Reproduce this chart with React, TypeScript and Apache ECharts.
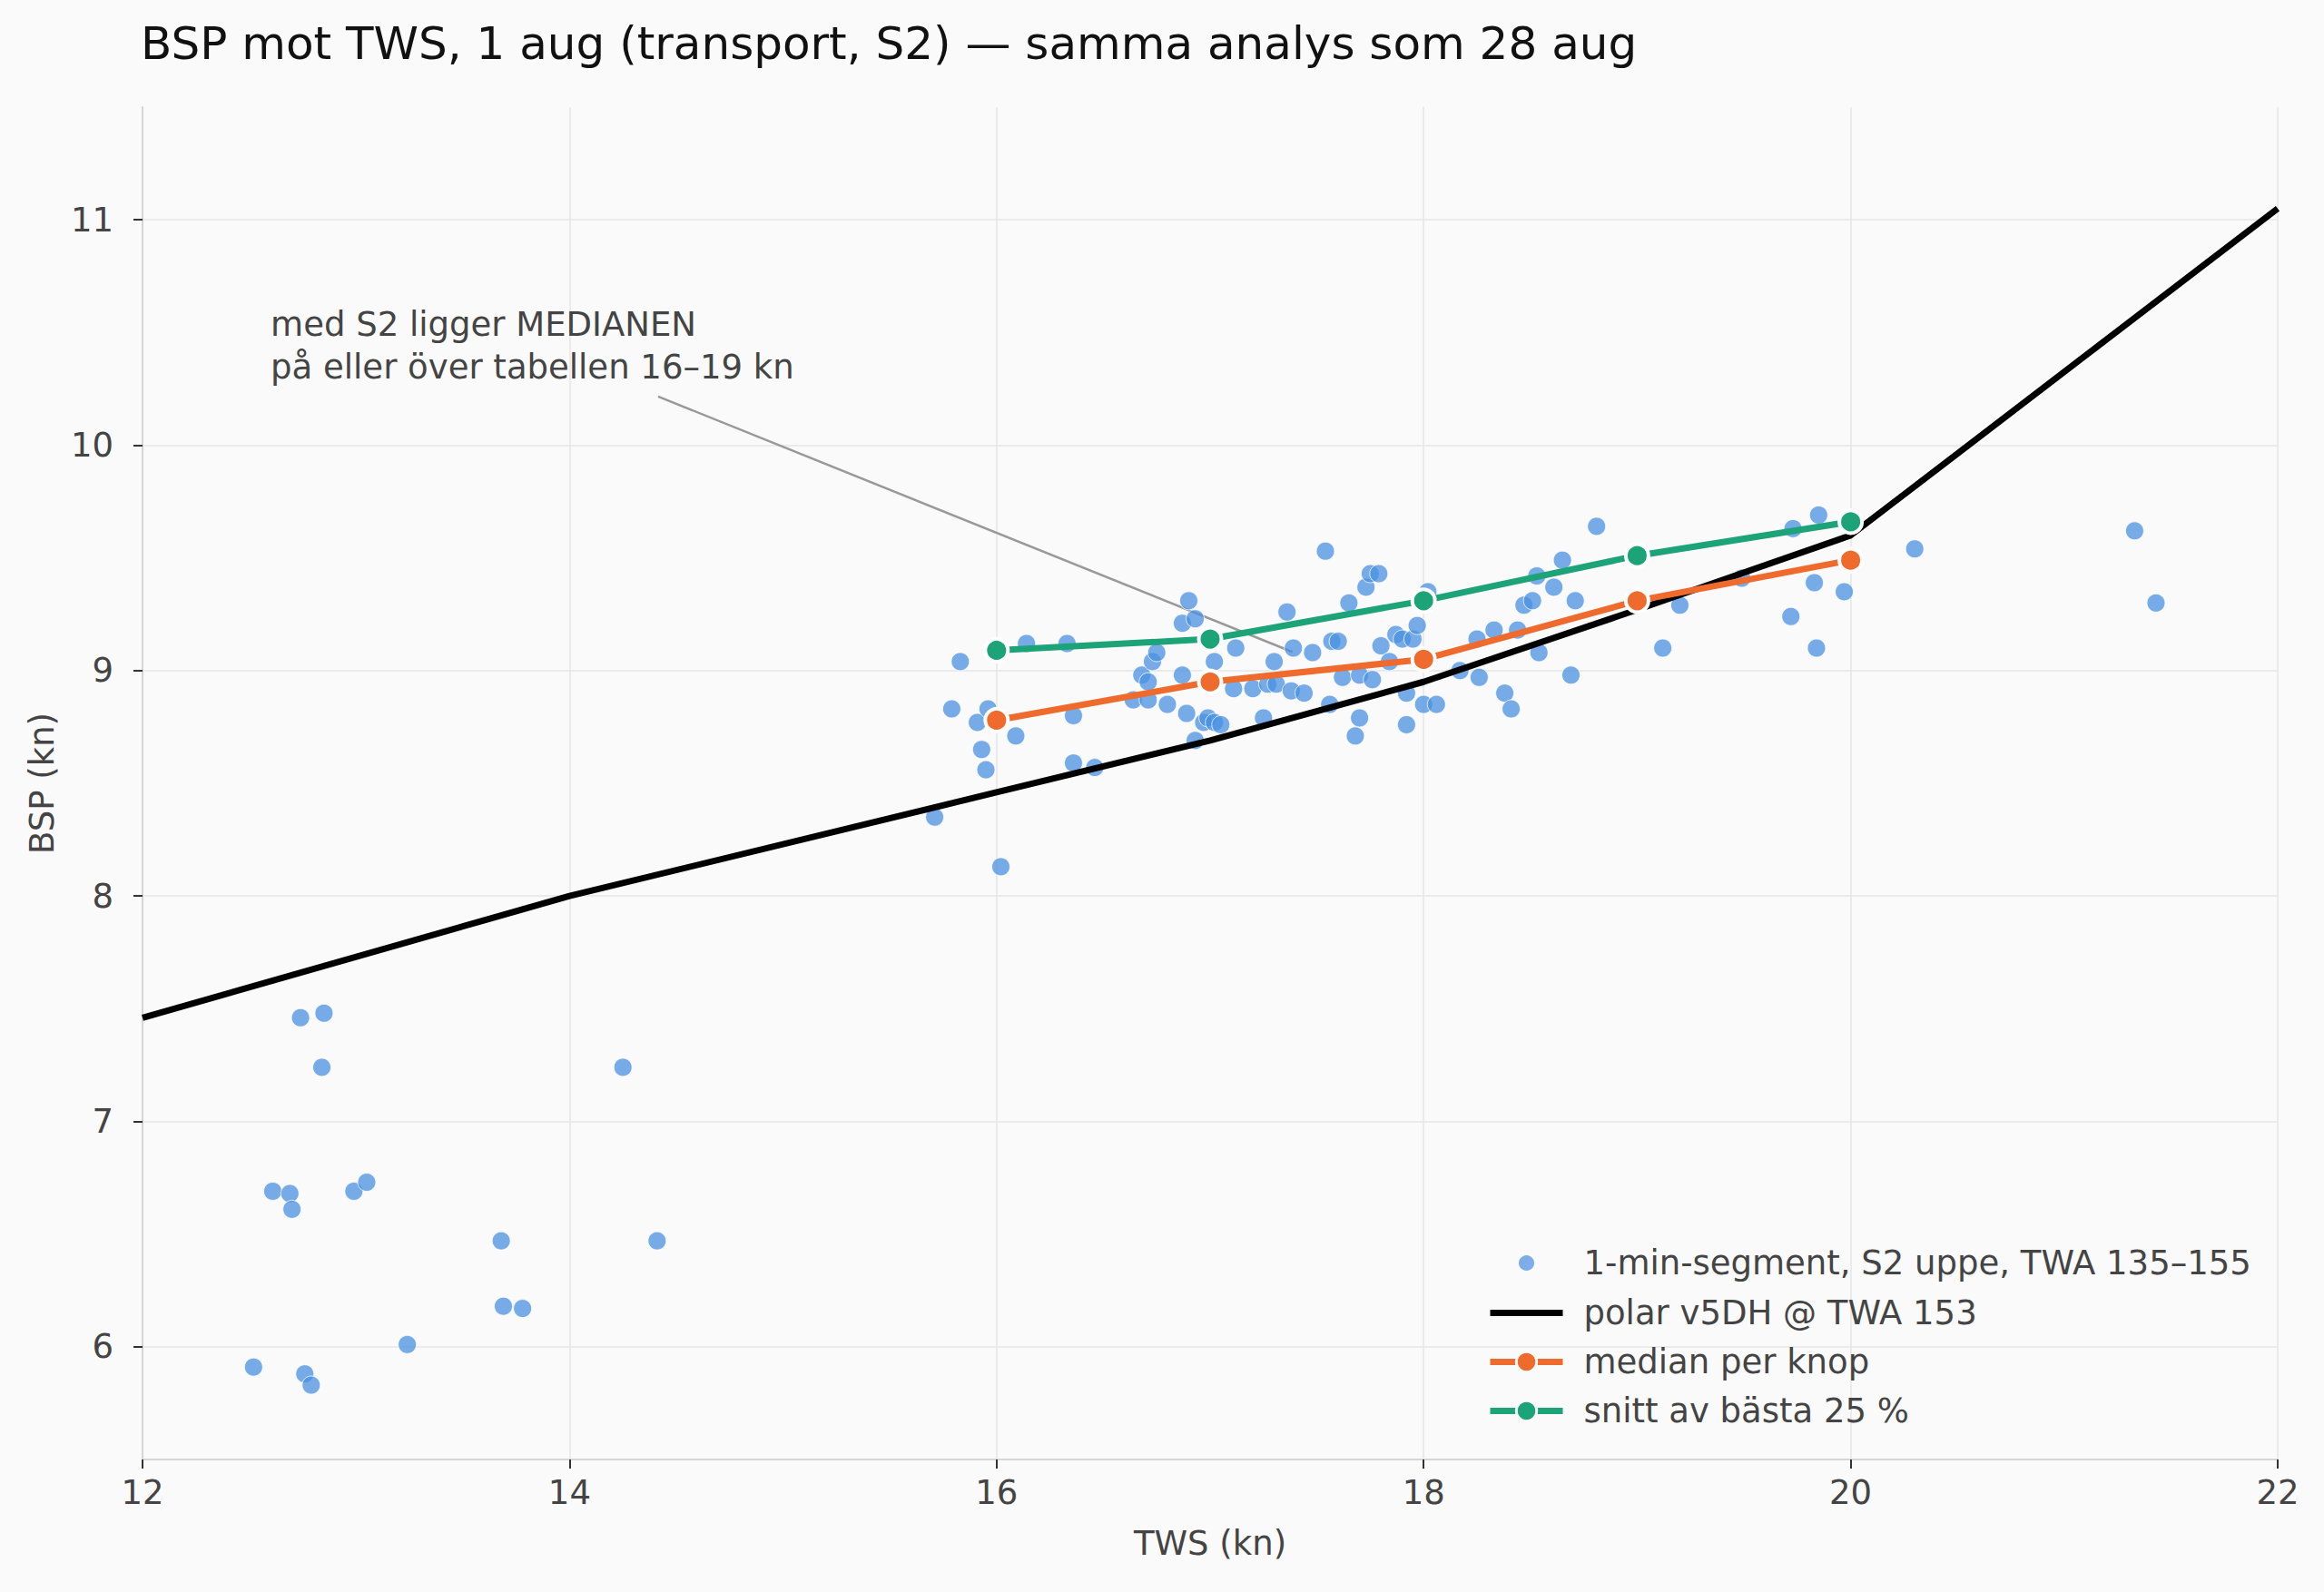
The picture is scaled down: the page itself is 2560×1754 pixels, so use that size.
import React, { useEffect, useRef } from "react";
import * as echarts from "echarts";

const titleText = "BSP mot TWS, 1 aug (transport, S2) — samma analys som 28 aug";
const xLabel = "TWS (kn)";
const yLabel = "BSP (kn)";
const xTicks = [12, 14, 16, 18, 20, 22];
const yTicks = [6, 7, 8, 9, 10, 11];

const scatterName = "1-min-segment, S2 uppe, TWA 135–155";
const scatterTws = [
  12.52, 12.61, 12.69, 12.7, 12.74, 12.85, 12.84, 12.76, 12.79, 12.99, 13.05, 13.24, 13.68, 13.69, 13.78, 14.25, 14.41,
  15.71, 15.79, 15.83, 15.91, 15.93, 15.95, 15.96, 16.02, 16.09, 16.14, 16.33, 16.36, 16.36, 16.46,
  16.64, 16.68, 16.71, 16.71, 16.73, 16.75, 16.8, 16.87, 16.87, 16.9, 16.89, 16.93, 16.93, 16.97, 16.99,
  17.02, 17.02, 17.05, 17.11, 17.12, 17.2, 17.25, 17.27, 17.3, 17.31, 17.36, 17.38, 17.39, 17.44, 17.48,
  17.54, 17.56, 17.57, 17.6, 17.62, 17.65, 17.68, 17.7, 17.7, 17.73, 17.75, 17.79, 17.76, 17.8, 17.84,
  17.87, 17.9, 17.92, 17.92, 17.95, 17.97, 18.0, 18.02, 18.06, 18.17, 18.25, 18.26, 18.33, 18.38, 18.41,
  18.44, 18.47, 18.51, 18.53, 18.54, 18.61, 18.65, 18.69, 18.71, 18.81, 19.12, 19.2, 19.49, 19.72, 19.73,
  19.83, 19.85, 19.84, 19.97, 20.3, 21.33, 21.43,
];
const scatterBsp = [
  5.91, 6.69, 6.68, 6.61, 7.46, 7.48, 7.24, 5.88, 5.83, 6.69, 6.73, 6.01, 6.47, 6.18, 6.17, 7.24, 6.47,
  8.35, 8.83, 9.04, 8.77, 8.65, 8.56, 8.83, 8.13, 8.71, 9.12, 9.12, 8.8, 8.59, 8.57,
  8.87, 8.98, 8.95, 8.87, 9.04, 9.08, 8.85, 9.21, 8.98, 9.31, 8.81, 9.23, 8.69, 8.77, 8.79,
  8.77, 9.04, 8.76, 8.92, 9.1, 8.92, 8.79, 8.94, 9.04, 8.94, 9.26, 8.91, 9.1, 8.9, 9.08,
  9.53, 8.85, 9.13, 9.13, 8.97, 9.3, 8.71, 8.98, 8.79, 9.37, 9.43, 9.43, 8.96, 9.11, 9.04,
  9.16, 9.14, 8.9, 8.76, 9.14, 9.2, 8.85, 9.35, 8.85, 9.0, 9.14, 8.97, 9.18, 8.9, 8.83,
  9.18, 9.29, 9.31, 9.42, 9.08, 9.37, 9.49, 8.98, 9.31, 9.64, 9.1, 9.29, 9.41, 9.24, 9.63,
  9.39, 9.69, 9.1, 9.35, 9.54, 9.62, 9.3,
];

const polarName = "polar v5DH @ TWA 153";
const polarTws = [12, 14, 16, 17, 18, 19, 20, 22];
const polarBsp = [7.46, 8.0, 8.46, 8.69, 8.95, 9.27, 9.6, 11.05];

const knots = [16, 17, 18, 19, 20];
const medianName = "median per knop";
const medianBsp = [8.78, 8.95, 9.05, 9.31, 9.49];
const bestName = "snitt av bästa 25 %";
const bestBsp = [9.09, 9.14, 9.31, 9.51, 9.66];

const annotationLines = ["med S2 ligger MEDIANEN", "på eller över tabellen 16–19 kn"];
const annotationTextAt = [12.6, 10.63];
const annotationArrowTws = [14.415, 17.385];
const annotationArrowBsp = [10.216, 9.083];

const FONT = "DejaVu Sans";

function zip(a: number[], b: number[]) {
  return a.map((v, i) => [v, b[i]]);
}

export default function App() {
  const ref = useRef<HTMLDivElement>(null);
  useEffect(() => {
    document.body.style.margin = "0";
    if (!ref.current) return;
    const chart = echarts.init(ref.current, undefined, { renderer: "svg" });
    const orange = "#ee6a2d";
    const green = "#1ca377";
    const blue = "#4a90e2";
    chart.setOption({
      animation: false,
      backgroundColor: "#fafafa",
      textStyle: { fontFamily: FONT },
      title: {
        text: titleText,
        left: 150,
        top: 18,
        textStyle: { fontFamily: FONT, fontSize: 50, fontWeight: "normal", color: "#111" },
      },
      grid: { left: 157, right: 51, top: 118, bottom: 146, containLabel: false },
      legend: {
        data: [
          {
            name: scatterName,
            icon: "circle",
            itemStyle: { color: "#7eadea", opacity: 1, borderColor: "#fafafa", borderWidth: 11 },
          },
          {
            name: polarName,
            icon: "path://M0,0 L80,0 L80,7 L0,7 Z",
            itemStyle: { color: "#000", borderWidth: 0 },
          },
          {
            name: medianName,
            lineStyle: { width: 7, color: orange },
            itemStyle: { color: orange, borderColor: "#fafafa", borderWidth: 3 },
          },
          {
            name: bestName,
            lineStyle: { width: 7, color: green },
            itemStyle: { color: green, borderColor: "#fafafa", borderWidth: 3 },
          },
        ],
        orient: "vertical",
        left: 1633,
        top: 1367,
        itemWidth: 80,
        itemHeight: 28,
        itemGap: 17,
        textStyle: { fontFamily: FONT, fontSize: 37, color: "#444", padding: [0, 0, 0, 18] },
      },
      xAxis: {
        type: "value",
        min: 12,
        max: 22,
        interval: 2,
        name: xLabel,
        nameLocation: "middle",
        nameGap: 74,
        nameTextStyle: { fontFamily: FONT, fontSize: 37, color: "#444" },
        axisLine: { show: true, lineStyle: { color: "#d6d6d6", width: 2 } },
        axisTick: { show: true, length: 10, lineStyle: { color: "#333", width: 2 } },
        axisLabel: { margin: 18, fontFamily: FONT, fontSize: 37, color: "#444" },
        splitLine: { show: true, lineStyle: { color: "#e6e6e6", width: 1.5 } },
      },
      yAxis: {
        type: "value",
        min: 5.5,
        max: 11.5,
        name: yLabel,
        nameLocation: "middle",
        nameGap: 92,
        nameRotate: 90,
        nameTextStyle: { fontFamily: FONT, fontSize: 37, color: "#444" },
        axisLine: { show: true, lineStyle: { color: "#d6d6d6", width: 2 } },
        axisTick: { show: true, length: 10, customValues: yTicks, lineStyle: { color: "#333", width: 2 } },
        axisLabel: { margin: 32, customValues: yTicks, fontFamily: FONT, fontSize: 37, color: "#444" },
        splitLine: { show: true, lineStyle: { color: "#e6e6e6", width: 1.5 } },
      },
      series: [
        {
          name: "annotation-arrow",
          type: "line",
          data: zip(annotationArrowTws, annotationArrowBsp),
          symbol: "none",
          silent: true,
          z: 1,
          lineStyle: { color: "#999", width: 2.5 },
          itemStyle: { color: "#999" },
        },
        {
          name: scatterName,
          type: "scatter",
          data: zip(scatterTws, scatterBsp),
          symbol: "circle",
          symbolSize: 20,
          z: 2,
          itemStyle: { color: blue, opacity: 0.75, borderColor: "#ffffff", borderWidth: 1 },
        },
        {
          name: polarName,
          type: "line",
          data: zip(polarTws, polarBsp),
          symbol: "none",
          showSymbol: false,
          z: 3,
          lineStyle: { color: "#000", width: 7 },
          itemStyle: { color: "#000" },
        },
        {
          name: medianName,
          type: "line",
          data: zip(knots, medianBsp),
          symbol: "circle",
          symbolSize: 25,
          z: 4,
          lineStyle: { color: orange, width: 7 },
          itemStyle: { color: orange, borderColor: "#ffffff", borderWidth: 4 },
        },
        {
          name: bestName,
          type: "line",
          data: zip(knots, bestBsp),
          symbol: "circle",
          symbolSize: 25,
          z: 5,
          lineStyle: { color: green, width: 7 },
          itemStyle: { color: green, borderColor: "#ffffff", borderWidth: 4 },
        },
        {
          name: "annotation-text",
          type: "scatter",
          data: [annotationTextAt],
          symbolSize: 0,
          silent: true,
          z: 6,
          itemStyle: { opacity: 1 },
          label: {
            show: true,
            position: [0, 0],
            align: "left",
            verticalAlign: "top",
            formatter: annotationLines.join("\n"),
            fontFamily: FONT,
            fontSize: 37,
            lineHeight: 47,
            color: "#444",
          },
        },
      ],
    });
    return () => chart.dispose();
  }, []);
  return <div ref={ref} style={{ width: 2560, height: 1754 }} />;
}
